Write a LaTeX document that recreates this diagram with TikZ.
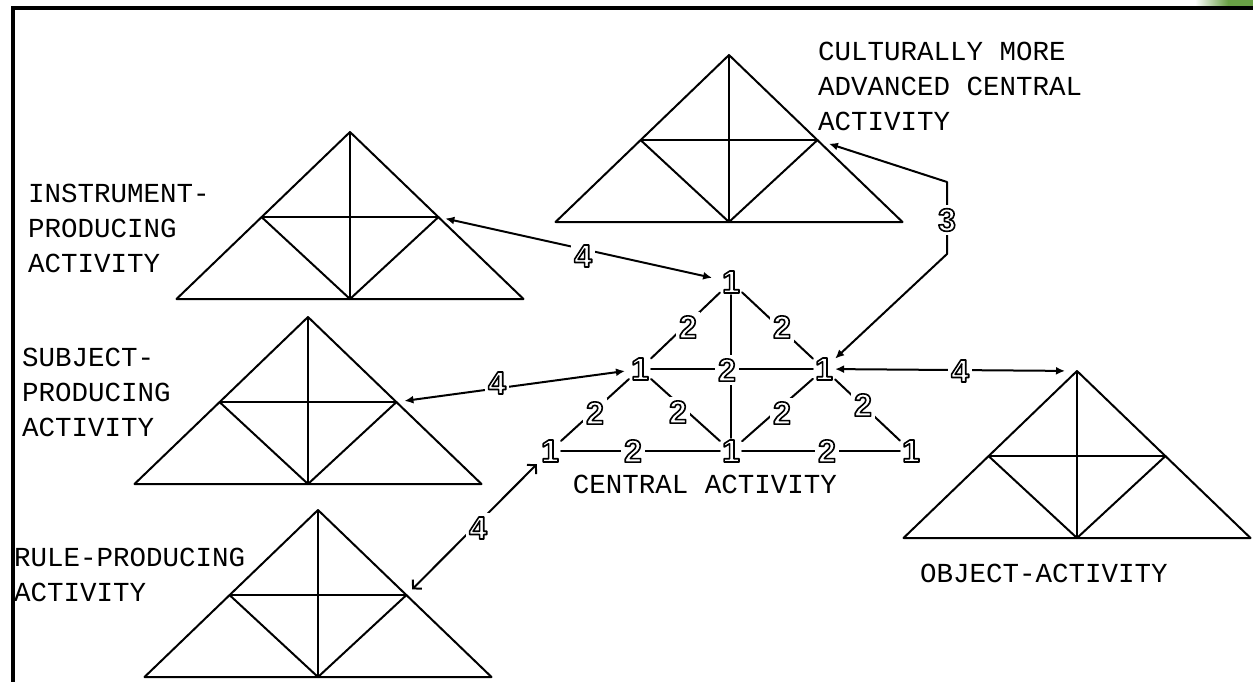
\documentclass[tikz,border=0pt]{standalone}
\usepackage{fontspec}
\usetikzlibrary{arrows.meta,calc}
\newfontfamily\labelfont{Liberation Mono}
\newfontfamily\digitfont{Liberation Sans}

% outlined (hollow) digit: glyph drawn with stroke-only text rendering
\newcommand\hollowdigit[1]{%
  \leavevmode
  \special{pdf:literal direct q 1 Tr 1.6 w 0 G 1 j}#1\special{pdf:literal direct Q}}

\definecolor{leafgreen}{RGB}{105,160,70}

\tikzset{
  fig/.style={line width=2pt, line cap=round, line join=round},
  vertex/.style={font=\digitfont\bfseries\fontsize{32}{32}\selectfont,
    inner sep=2pt, fill=white},
  weight/.style={font=\digitfont\bfseries\fontsize{32}{32}\selectfont,
    inner sep=3.5pt, fill=white},
  caption/.style={font=\labelfont\fontsize{27.5}{35}\selectfont,
    inner sep=0pt, align=left},
  conn/.style={fig, {Latex[length=9pt,width=8pt]}-{Latex[length=9pt,width=8pt]}},
  barbconn/.style={fig, {Straight Barb[length=6pt,width=13pt]}-{Straight Barb[length=6pt,width=13pt]}},
  activity/.pic={
    \coordinate (-apex) at (0,0);
    \coordinate (-bl) at (-173.5,167);
    \coordinate (-br) at (173.5,167);
    \coordinate (-bm) at (0,167);
    \coordinate (-ml) at (-88.5,85);
    \coordinate (-mr) at (88.5,85);
    \draw[fig] (-bl) -- (-apex) -- (-br) -- cycle;
    \draw[fig] (-apex) -- (-bm);
    \draw[fig] (-ml) -- (-mr);
    \draw[fig] (-ml) -- (-bm) -- (-mr);
  }
}

\begin{document}
\begin{tikzpicture}[x=1pt,y=-1pt]
\useasboundingbox (0,0) rectangle (1253,682);

% window frame and corner of the backdrop
\fill[left color=white, right color=leafgreen] (1195,0) rectangle (1228,6);
\fill[leafgreen] (1228,0) rectangle (1253,6);
\fill (10.5,6) rectangle (1253,10);
\fill (10.5,6) rectangle (14.5,682);

% the five surrounding activity triangles
\pic (instr) at (350,132)  {activity};
\pic (subj)  at (308,317)  {activity};
\pic (rule)  at (318,510)  {activity};
\pic (cult)  at (729,55)   {activity};
\pic (obj)   at (1077,371) {activity};

% central activity: vertices
\node[vertex] (t1)  at (731,282) {\hollowdigit{1}};
\node[vertex] (l1)  at (640,369) {\hollowdigit{1}};
\node[vertex] (r1)  at (824,369) {\hollowdigit{1}};
\node[vertex] (bl1) at (550,451) {\hollowdigit{1}};
\node[vertex] (bc1) at (731,451) {\hollowdigit{1}};
\node[vertex] (br1) at (911,451) {\hollowdigit{1}};

% central activity: edges
\draw[fig] (t1) -- (l1);
\draw[fig] (t1) -- (r1);
\draw[fig] (t1) -- (bc1);
\draw[fig] (l1) -- (r1);
\draw[fig] (l1) -- (bl1);
\draw[fig] (l1) -- (bc1);
\draw[fig] (r1) -- (bc1);
\draw[fig] (r1) -- (br1);
\draw[fig] (bl1) -- (bc1);
\draw[fig] (bc1) -- (br1);

% central activity: edge labels
\node[weight] (e1) at (688,327) {\hollowdigit{2}};
\node[weight] (e2) at (782,327) {\hollowdigit{2}};
\node[weight] (e3) at (727,370) {\hollowdigit{2}};
\node[weight] (e4) at (595,413) {\hollowdigit{2}};
\node[weight] (e5) at (678,412) {\hollowdigit{2}};
\node[weight] (e6) at (782,413) {\hollowdigit{2}};
\node[weight] (e7) at (863,405) {\hollowdigit{2}};
\node[weight] (e8) at (633,451) {\hollowdigit{2}};
\node[weight] (e9) at (827,451) {\hollowdigit{2}};

% links to neighbouring activities
\coordinate (c3top) at (947,182);
\coordinate (c3bot) at (947,254);
\draw[conn, shorten <=7pt, shorten >=8pt] (instr-mr) -- (t1);
\draw[conn, shorten <=8pt, shorten >=4pt] (subj-mr) -- (l1);
\draw[barbconn, shorten <=8pt, shorten >=3pt] (rule-mr) -- (bl1);
\draw[conn, shorten >=12pt] (r1) -- (obj-apex);
\draw[conn, shorten <=12pt] (cult-mr) -- (c3top) -- (c3bot) -- (r1);

\node[weight] (w1) at (583,256) {\hollowdigit{4}};
\node[weight] (w2) at (497,383) {\hollowdigit{4}};
\node[weight] (w3) at (478,528) {\hollowdigit{4}};
\node[weight] (w4) at (960,371) {\hollowdigit{4}};
\node[weight] (w5) at (947,220) {\hollowdigit{3}};

% captions
\node[caption, anchor=north west] (cultcap) at (818,42)
  {CULTURALLY MORE\\ADVANCED CENTRAL\\ACTIVITY};
\node[caption, anchor=north west] (instrcap) at (28,184)
  {INSTRUMENT-\\PRODUCING\\ACTIVITY};
\node[caption, anchor=north west] (subjcap) at (22,348)
  {SUBJECT-\\PRODUCING\\ACTIVITY};
\node[caption, anchor=north west] (rulecap) at (14,548)
  {RULE-PRODUCING\\ACTIVITY};
\node[caption, anchor=base] (centcap) at (705,493) {CENTRAL ACTIVITY};
\node[caption, anchor=base west] (objcap) at (920,582) {OBJECT-ACTIVITY};
\end{tikzpicture}
\end{document}
